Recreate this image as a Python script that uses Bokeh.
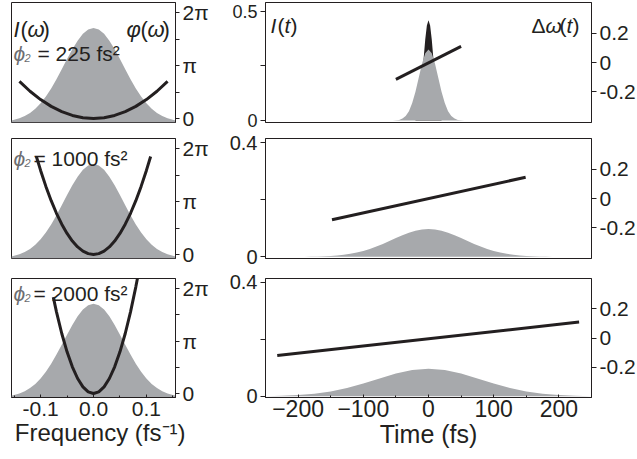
import math
from bokeh.plotting import figure
from bokeh.layouts import column, row
from bokeh.models import Range1d, LinearAxis, FixedTicker, Label
from bokeh.embed import file_html
from bokeh.resources import INLINE

# ---------------- data ----------------
freq = [-0.155, -0.15, -0.14, -0.13, -0.12, -0.11, -0.10, -0.09, -0.08, -0.07, -0.06, -0.05,
        -0.04, -0.03, -0.02, -0.01, 0.0, 0.01, 0.02, 0.03, 0.04, 0.05, 0.06, 0.07, 0.08,
        0.09, 0.10, 0.11, 0.12, 0.13, 0.14, 0.15, 0.155]
spectrum = [0.022, 0.028, 0.044, 0.068, 0.101, 0.145, 0.203, 0.275, 0.360, 0.458, 0.563, 0.671,
            0.775, 0.866, 0.938, 0.984, 1.0, 0.984, 0.938, 0.866, 0.775, 0.671, 0.563, 0.458, 0.360,
            0.275, 0.203, 0.145, 0.101, 0.068, 0.044, 0.028, 0.022]

phi2_labels = ["225", "1000", "2000"]

phase_f_225 = [-0.14, -0.12, -0.10, -0.08, -0.06, -0.04, -0.02, 0.0, 0.02, 0.04, 0.06, 0.08, 0.10, 0.12, 0.14]
phase_225 = [2.205, 1.62, 1.125, 0.72, 0.405, 0.18, 0.045, 0.0, 0.045, 0.18, 0.405, 0.72, 1.125, 1.62, 2.205]

phase_f_1000 = [-0.108, -0.10, -0.09, -0.08, -0.07, -0.06, -0.05, -0.04, -0.03, -0.02, -0.01, 0.0,
                0.01, 0.02, 0.03, 0.04, 0.05, 0.06, 0.07, 0.08, 0.09, 0.10, 0.108]
phase_1000 = [5.83, 5.0, 4.05, 3.2, 2.45, 1.8, 1.25, 0.8, 0.45, 0.2, 0.05, 0.0,
              0.05, 0.2, 0.45, 0.8, 1.25, 1.8, 2.45, 3.2, 4.05, 5.0, 5.83]

phase_f_2000 = [-0.076, -0.07, -0.06, -0.05, -0.04, -0.03, -0.02, -0.01, 0.0, 0.01, 0.02, 0.03,
                0.04, 0.05, 0.06, 0.07, 0.08, 0.085]
phase_2000 = [5.78, 4.9, 3.6, 2.5, 1.6, 0.9, 0.4, 0.1, 0.0, 0.1, 0.4, 0.9, 1.6, 2.5, 3.6, 4.9, 6.4, 7.22]

t_225 = [-60, -55, -50, -45, -40, -35, -30, -25, -20, -15, -10, -5, 0, 5, 10, 15, 20, 25, 30, 35, 40, 45, 50, 55, 60]
pulse_225 = [0.0, 0.0, 0.001, 0.003, 0.009, 0.021, 0.043, 0.080, 0.132, 0.196, 0.260, 0.308, 0.326,
             0.308, 0.260, 0.196, 0.132, 0.080, 0.043, 0.021, 0.009, 0.003, 0.001, 0.0, 0.0]

t_tl = [-20, -15, -10, -7.5, -5, -2.5, 0, 2.5, 5, 7.5, 10, 15, 20]
pulse_tl = [0.015, 0.066, 0.194, 0.283, 0.371, 0.436, 0.46, 0.436, 0.371, 0.283, 0.194, 0.066, 0.015]

t_1000 = [-200, -190, -180, -170, -160, -150, -140, -130, -120, -110, -100, -90, -80, -70, -60, -50,
          -40, -30, -20, -10, 0, 10, 20, 30, 40, 50, 60, 70, 80, 90, 100, 110, 120, 130, 140, 150,
          160, 170, 180, 190, 200]
pulse_1000 = [0.0002, 0.0003, 0.0006, 0.0011, 0.0018, 0.0029, 0.0045, 0.0069, 0.0102, 0.0146, 0.0203,
              0.0274, 0.0357, 0.0451, 0.0553, 0.0656, 0.0755, 0.0843, 0.0911, 0.0955, 0.097,
              0.0955, 0.0911, 0.0843, 0.0755, 0.0656, 0.0553, 0.0451, 0.0357, 0.0274, 0.0203,
              0.0146, 0.0102, 0.0069, 0.0045, 0.0029, 0.0018, 0.0011, 0.0006, 0.0003, 0.0002]

t_2000 = [-250, -225, -200, -175, -150, -125, -100, -75, -50, -25, 0, 25, 50, 75, 100, 125, 150, 175, 200, 225, 250]
pulse_2000 = [0.0008, 0.0020, 0.0045, 0.0092, 0.0172, 0.0292, 0.0449, 0.0629, 0.0800, 0.0924, 0.097,
              0.0924, 0.0800, 0.0629, 0.0449, 0.0292, 0.0172, 0.0092, 0.0045, 0.0020, 0.0008]

chirp_t_225 = [-50, 50]
chirp_225 = [-0.115, 0.11]
chirp_t_1000 = [-148, 149]
chirp_1000 = [-0.145, 0.145]
chirp_t_2000 = [-232, 231]
chirp_2000 = [-0.12, 0.11]

freq_ticks = [-0.1, 0.0, 0.1]
freq_minor = [-0.15, -0.05, 0.05, 0.15]
time_ticks = [-200, -100, 0, 100, 200]
time_minor = [-150, -50, 50, 150]

# ---------------- styling ----------------
FONT = "Liberation Sans"
INK = "#231f20"
GRAY = "#a7a9ac"
PHI_GRAY = "#6d6e71"
NB = "\u00a0"

LW, RW = 164, 326          # frame widths
FH = [120, 120, 119]       # frame heights
BT = [2, 6, 8]             # top borders
BB = [10, 12, 62]          # bottom borders

FX = (-0.155, 0.155)
FY = (0.0, 1.27)
PHASE = (-0.24, 6.9)
TX = (-250, 250)
TY = [(-0.009, 0.541), (-0.006, 0.414), (-0.004, 0.414)]
CHIRP = (-0.41, 0.41)


def style(p):
    p.grid.visible = False
    p.outline_line_color = INK
    p.outline_line_width = 1
    p.background_fill_color = "white"
    p.border_fill_color = "white"


def put(p, xr, yr, fw, fh, px, py, text, size, style_="normal", align="left", color=INK,
        baseline="alphabetic"):
    x = xr[0] + (xr[1] - xr[0]) * px / fw
    y = yr[1] - (yr[1] - yr[0]) * py / fh
    p.add_layout(Label(x=x, y=y, text=text, text_font=FONT, text_font_size=f"{size}px",
                       text_font_style=style_, text_align=align, text_baseline=baseline,
                       text_color=color))


def axis_style(ax, size):
    ax.major_label_text_font = FONT
    ax.major_label_text_font_size = f"{size}px"
    ax.major_label_text_color = INK
    ax.axis_line_color = INK
    ax.major_tick_line_color = INK
    ax.minor_tick_line_color = INK


def title_style(ax, text, size):
    ax.axis_label = text
    ax.axis_label_text_font = FONT
    ax.axis_label_text_font_size = f"{size}px"
    ax.axis_label_text_font_style = "normal"
    ax.axis_label_text_color = INK
    ax.axis_label_standoff = 0


phase_f = [phase_f_225, phase_f_1000, phase_f_2000]
phase_v = [phase_225, phase_1000, phase_2000]
t_all = [t_225, t_1000, t_2000]
pulses = [pulse_225, pulse_1000, pulse_2000]
chirp_t = [chirp_t_225, chirp_t_1000, chirp_t_2000]
chirp_v = [chirp_225, chirp_1000, chirp_2000]

rows = []
for i in range(3):
    last = (i == 2)
    # ---------- frequency panel ----------
    pl = figure(frame_width=LW, frame_height=FH[i], min_border_left=11, min_border_right=45,
                min_border_top=BT[i], min_border_bottom=BB[i],
                x_range=Range1d(*FX), y_range=Range1d(*FY),
                x_axis_location="below" if last else None, y_axis_location=None,
                output_backend="svg", toolbar_location=None)
    style(pl)
    pl.extra_y_ranges = {"phase": Range1d(*PHASE)}
    pl.varea(x=freq, y1=0, y2=spectrum, fill_color=GRAY, fill_alpha=1.0)
    pl.line(x=phase_f[i], y=phase_v[i], y_range_name="phase", line_color=INK, line_width=3)
    pax = LinearAxis(y_range_name="phase",
                     ticker=FixedTicker(ticks=[0, math.pi / 2, math.pi, 3 * math.pi / 2, 2 * math.pi]),
                     major_label_overrides={0: "0", math.pi / 2: "", math.pi: "π",
                                            3 * math.pi / 2: "", 2 * math.pi: "2π"},
                     major_tick_out=4, major_tick_in=0, minor_tick_out=0, minor_tick_in=0,
                     major_label_standoff=3)
    axis_style(pax, 21)
    pl.add_layout(pax, "right")
    if last:
        ax = pl.xaxis[0]
        ax.ticker = FixedTicker(ticks=freq_ticks, minor_ticks=freq_minor)
        ax.major_label_overrides = {-0.1: "-0.1", 0.0: "0.0", 0.1: "0.1"}
        ax.major_tick_in = 3
        ax.major_tick_out = 0
        ax.minor_tick_in = 2
        ax.minor_tick_out = 0
        ax.major_label_standoff = 4
        axis_style(ax, 21)
        title_style(ax, NB * 2 + "Frequency (fs\u207b\u00b9)", 24)
    # texts
    args = (FX, FY, LW, FH[i])
    if i == 0:
        put(pl, *args, 2, 27, "I", 22, "italic")
        put(pl, *args, 9, 27, "(", 22)
        put(pl, *args, 16, 27, "ω", 22, "italic")
        put(pl, *args, 31, 27, ")", 22)
        put(pl, *args, 115, 27, "φ", 22, "italic")
        put(pl, *args, 129, 27, "(", 22)
        put(pl, *args, 136, 27, "ω", 22, "italic")
        put(pl, *args, 151, 27, ")", 22)
        py, ex = 51, 26
    elif i == 1:
        py, ex = 20, 22
    else:
        py, ex = 15, 22
    put(pl, *args, 2, py, "ϕ", 21, "italic", color=PHI_GRAY)
    put(pl, *args, 13, py + 4, "2", 11, "italic", color=PHI_GRAY)
    put(pl, *args, ex, py, "= " + phi2_labels[i] + " fs\u00b2", 21)

    # ---------- time panel ----------
    pr = figure(frame_width=RW, frame_height=FH[i], min_border_left=45, min_border_right=46,
                min_border_top=BT[i], min_border_bottom=BB[i],
                x_range=Range1d(*TX), y_range=Range1d(*TY[i]),
                x_axis_location="below" if last else None, y_axis_location="left",
                output_backend="svg", toolbar_location=None)
    style(pr)
    pr.extra_y_ranges = {"chirp": Range1d(*CHIRP)}
    if i == 0:
        pr.varea(x=t_tl, y1=0, y2=pulse_tl, fill_color=INK, fill_alpha=1.0)
    pr.varea(x=t_all[i], y1=0, y2=pulses[i], fill_color=GRAY, fill_alpha=1.0)
    pr.line(x=chirp_t[i], y=chirp_v[i], y_range_name="chirp", line_color=INK, line_width=3)
    top = 0.5 if i == 0 else 0.4
    lax = pr.yaxis[0]
    lax.ticker = FixedTicker(ticks=[0, top / 2, top])
    lax.major_label_overrides = {0: "0", top / 2: "", top: ("0.5" if i == 0 else "0.4")}
    lax.major_tick_out = 5
    lax.major_tick_in = 0
    lax.minor_tick_out = 0
    lax.minor_tick_in = 0
    lax.major_label_standoff = 3
    axis_style(lax, 18 if i == 0 else 20)
    cax = LinearAxis(y_range_name="chirp", ticker=FixedTicker(ticks=[-0.2, 0.0, 0.2]),
                     major_label_overrides={-0.2: "-0.2", 0.0: "0", 0.2: "0.2"},
                     major_tick_out=5, major_tick_in=0, minor_tick_out=0, minor_tick_in=0,
                     major_label_standoff=3)
    axis_style(cax, 21)
    pr.add_layout(cax, "right")
    if last:
        ax = pr.xaxis[0]
        ax.ticker = FixedTicker(ticks=time_ticks, minor_ticks=time_minor)
        ax.major_tick_in = 3
        ax.major_tick_out = 0
        ax.minor_tick_in = 2
        ax.minor_tick_out = 0
        ax.major_label_standoff = 2
        axis_style(ax, 23)
        title_style(ax, "Time (fs)", 25)
    if i == 0:
        a2 = (TX, TY[0], RW, FH[0])
        put(pr, *a2, 5, 23, "I", 21, "italic")
        put(pr, *a2, 12, 23, "(", 21)
        put(pr, *a2, 19, 23, "t", 21, "italic")
        put(pr, *a2, 25, 23, ")", 21)
        put(pr, *a2, 266, 23, "Δ", 21)
        put(pr, *a2, 280, 23, "ω", 21, "italic")
        put(pr, *a2, 294, 23, "(", 21)
        put(pr, *a2, 301, 23, "t", 21, "italic")
        put(pr, *a2, 307, 23, ")", 21)
    rows.append(row(pl, pr))

layout = column(*rows)
open("out.html", "w").write(file_html(layout, INLINE))
